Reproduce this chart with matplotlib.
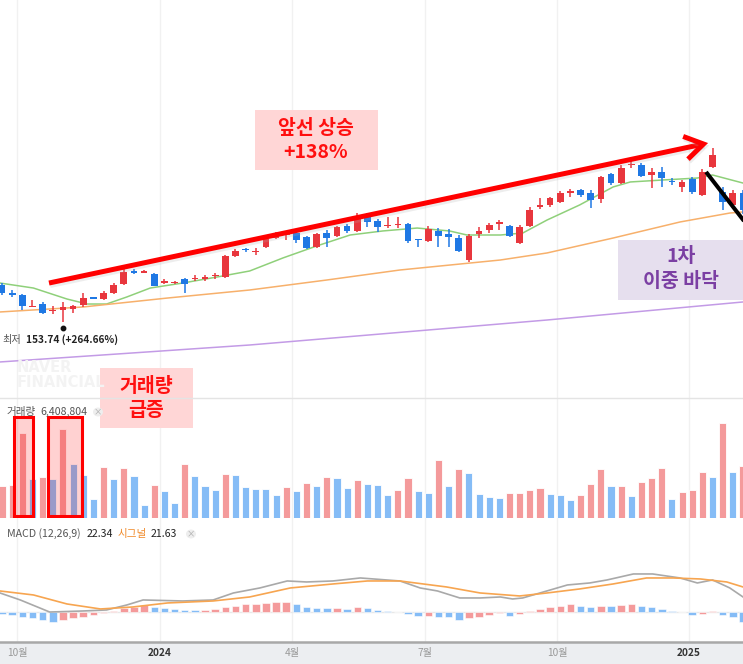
import matplotlib
matplotlib.use('Agg')
import matplotlib.pyplot as plt
import numpy as np
from matplotlib.patches import Rectangle, FancyArrowPatch, Circle
import matplotlib.patheffects as pe
from matplotlib import transforms
from matplotlib.lines import Line2D

plt.rcParams['font.family'] = ['Noto Sans CJK KR', 'DejaVu Sans']

# ---------------- data (weekly candles) ----------------
opens = [198.9, 188.5, 186.7, 172.1, 175.7, 167.2, 168.4, 169.6, 174.5, 183.6,
         181.8, 189.1, 200.1, 215.4, 214.1, 212.3, 201.3, 201.3, 206.2, 206.2,
         206.2, 209.3, 208.7, 234.3, 242.2, 238.6, 245.3, 256.2, 259.3, 262.3,
         257.5, 245.3, 262.3, 258.7, 270.9, 264.8, 281.9, 277.0, 270.3, 271.5,
         273.3, 254.4, 252.6, 264.8, 261.1, 256.2, 229.4, 261.1, 266.0, 273.9,
         270.9, 250.1, 270.9, 294.1, 296.5, 300.2, 311.1, 314.8, 311.1, 303.8,
         334.3, 323.3, 344.7, 345.3, 333.1, 336.8, 325.2, 318.5, 328.2, 308.7,
         342.9, 312.4, 296.5, 311.1]
closes = [189.1, 187.3, 173.3, 173.3, 164.7, 168.4, 172.1, 173.3, 183.0, 182.4,
          189.1, 198.9, 214.8, 214.1, 215.4, 197.7, 203.2, 202.6, 200.1, 207.4,
          208.7, 210.5, 234.3, 240.4, 241.0, 239.8, 255.6, 261.1, 260.5, 254.4,
          244.0, 261.1, 256.2, 269.7, 264.8, 280.6, 275.8, 269.7, 271.5, 272.7,
          252.6, 253.2, 267.2, 258.7, 257.5, 240.4, 258.7, 264.8, 272.1, 275.2,
          258.7, 269.7, 290.4, 295.9, 305.0, 311.1, 313.6, 308.7, 302.6, 330.7,
          323.3, 341.6, 345.9, 331.9, 336.8, 329.4, 324.0, 324.6, 312.4, 336.8,
          357.5, 300.2, 311.1, 290.4]
highs = [201.3, 192.8, 187.9, 180.6, 178.2, 173.3, 178.2, 174.5, 189.1, 184.3,
         191.6, 201.3, 218.4, 218.4, 216.6, 213.5, 206.2, 203.8, 207.4, 211.1,
         211.1, 213.5, 235.5, 242.8, 244.0, 244.0, 259.9, 263.6, 262.3, 264.8,
         258.7, 262.3, 266.0, 270.9, 273.3, 286.7, 286.7, 279.4, 281.9, 281.9,
         274.5, 255.0, 270.9, 268.4, 267.2, 259.9, 261.1, 269.7, 274.5, 278.2,
         272.1, 272.1, 294.1, 305.0, 306.3, 313.6, 316.0, 316.0, 314.8, 331.9,
         335.5, 345.3, 351.4, 347.7, 341.6, 342.9, 329.4, 327.0, 330.7, 340.4,
         366.0, 318.5, 314.8, 314.8]
lows = [186.7, 184.3, 168.4, 171.5, 164.1, 163.5, 153.74, 164.7, 172.1, 181.8,
        180.6, 187.9, 198.9, 212.3, 213.5, 197.1, 200.1, 200.1, 189.1, 203.8,
        203.8, 206.2, 207.4, 233.1, 239.2, 235.5, 244.0, 255.0, 253.8, 250.1,
        242.8, 244.0, 245.3, 257.5, 262.3, 263.6, 269.7, 263.6, 268.4, 268.4,
        250.1, 245.3, 251.4, 245.3, 245.3, 239.2, 226.9, 256.2, 262.3, 266.0,
        257.5, 248.9, 269.7, 291.6, 294.1, 298.9, 306.3, 306.3, 292.8, 298.9,
        320.9, 322.1, 341.6, 330.7, 317.2, 318.5, 320.9, 312.4, 309.9, 307.5,
        341.6, 290.4, 294.1, 285.5]

# moving averages (week index, price)
ma_short_x = [-0.2, 3.1, 6.4, 8.4, 10.3, 12.3, 14.6, 17.8, 21.2, 24.4, 27.7, 31.0,
              34.3, 37.5, 40.9, 44.1, 45.8, 49.1, 51.3, 53.7, 56.9, 60.2, 61.9,
              65.1, 68.5, 70.0, 73.0]
ma_short_y = [201.3, 195.2, 181.8, 175.7, 175.7, 184.3, 195.2, 201.3, 208.7, 216.0,
              232.0, 246.5, 259.9, 264.8, 268.4, 264.8, 259.9, 259.9, 262.3, 278.2,
              296.5, 318.5, 324.6, 327.0, 329.4, 333.1, 323.3]
ma_mid_x = [-0.2, 8.0, 16.3, 24.4, 32.0, 39.2, 46.1, 49.1, 53.7, 60.2, 66.8, 71.7, 73.0]
ma_mid_y = [166.0, 172.1, 183.0, 192.8, 205.0, 217.2, 225.7, 229.4, 238.0, 256.2,
            275.8, 286.7, 288.0]
ma_long_x = [-0.2, 24.4, 53.7, 73.0]
ma_long_y = [105.0, 125.7, 156.2, 178.2]

# volume (millions of shares) and bar colours (r = up, b = down)
volumes = [3.94, 4.07, 10.47, 4.80, 5.05, 4.80, 10.97, 6.65, 5.30, 2.34,
           6.28, 4.80, 6.16, 5.17, 1.60, 4.07, 3.33, 1.85, 6.65, 5.17,
           3.94, 3.45, 5.42, 5.30, 3.82, 3.57, 3.57, 2.83, 3.82, 3.33,
           4.31, 3.94, 5.05, 4.93, 3.70, 4.68, 4.19, 4.07, 2.83, 3.45,
           4.93, 3.33, 3.08, 7.15, 3.94, 6.04, 5.54, 2.96, 2.59, 2.46,
           3.08, 3.08, 3.45, 3.70, 2.96, 2.83, 2.22, 2.83, 4.19, 6.04,
           3.94, 3.94, 2.71, 4.44, 4.93, 6.16, 2.34, 3.20, 3.45, 5.67,
           5.05, 11.70, 5.67, 6.41]
vol_dir = "rrrbrbrbbbrbrbbrbbrbbbrbbbbbrbrbrbbrbbbrrbbrbrbbbbrrrrbbbrrrbrbrrrbrrrbrbr"

# MACD
macd_x = [-0.2, 1.8, 4.7, 8.0, 10.3, 12.3, 13.9, 17.8, 20.8, 22.8, 25.4, 28.1, 30.0,
          32.6, 35.3, 39.2, 41.2, 42.9, 45.1, 47.1, 49.1, 50.3, 51.3, 53.0, 55.7,
          57.9, 59.6, 62.2, 64.1, 66.8, 68.5, 70.0, 71.7, 73.0]
macd_y = [27.8, 17.3, -0.8, 0.8, 2.3, 9.8, 17.3, 15.8, 17.3, 27.8, 35.3, 45.8, 44.3,
          45.8, 50.3, 45.8, 35.3, 30.8, 20.3, 20.3, 21.8, 18.8, 20.3, 27.8, 39.8,
          42.8, 47.3, 56.3, 56.3, 50.3, 42.8, 47.3, 35.3, 21.8]
signal_x = [-0.2, 3.1, 6.4, 9.7, 12.9, 16.3, 20.8, 24.4, 28.4, 32.6, 36.0, 39.2, 43.8,
            47.1, 51.0, 53.7, 56.9, 60.2, 63.5, 66.1, 68.8, 71.4, 73.0]
signal_y = [30.8, 24.8, 11.3, 3.8, 6.8, 12.8, 15.8, 21.8, 35.3, 41.3, 45.8, 45.8, 36.8,
            27.8, 23.3, 27.8, 33.8, 41.3, 50.3, 50.3, 48.8, 44.3, 36.8]
hist = [-3.75, -5.25, -8.25, -9.75, -12.75, -15.75, -12.75, -9.75, -8.25, -5.25,
        -2.25, 1.0, 5.25, 6.75, 9.75, 6.75, 5.25, 3.75, 2.25, 2.25,
        2.25, 3.75, 6.75, 8.25, 11.25, 11.25, 12.75, 14.25, 14.25, 11.25,
        6.75, 5.25, 5.25, 5.25, 3.75, 6.75, 5.25, 2.25, 0.75, -0.75,
        -3.75, -6.75, -6.75, -8.25, -8.25, -12.75, -9.75, -8.25, -5.25, -2.25,
        -6.75, -3.75, 0.5, 3.75, 6.75, 8.25, 11.25, 8.25, 6.75, 8.25,
        8.25, 9.75, 11.25, 8.25, 6.75, 3.75, 0.75, -0.75, -5.25, -3.75,
        0.5, -5.25, -8.25, -15.75]
hist_dir = "bbbbbbrrrrrrrrrbbbbbrrrrrrrrrbbbbrbrbbbbbbrbbbrrrrbrrrrrrbbrbrrbbbbbbrrbbb"

tick_pos = [1.48, 15.57, 28.57, 41.67, 54.68, 67.68]
tick_labels = ["10월", "2024", "4월", "7월", "10월", "2025"]
tick_bold = [False, True, False, False, False, True]

low_value = 153.74
low_text = "153.74 (+264.66%)"
volume_text = "6,408,804"
macd_value = "22.34"
signal_value = "21.63"

# annotation line endpoints (week index, price)
rise_start = (4.63, 201.3)
rise_end = (69.56, 372.1)
drop_start = (69.36, 336.8)
drop_end = (74.7, 251.4)

# ---------------- figure ----------------
W, H = 743, 664
fig = plt.figure(figsize=(W / 100, H / 100), dpi=100)
fig.patch.set_facecolor('white')

def fx(px):
    return px / W

def fy(py):
    return 1 - py / H

RED = '#e8363d'
BLUE = '#1f78e4'
VRED = '#f49a9b'
VBLUE = '#85bcf6'
GRID = '#f1f1f1'
XLIM = (-0.197, 73.0)

ax_p = fig.add_axes([0, fy(398), 1, 398 / H])
ax_v = fig.add_axes([0, fy(518), 1, 120 / H])
ax_m = fig.add_axes([0, fy(642), 1, 124 / H])
ax_x = fig.add_axes([0, 0, 1, 22 / H])

for ax in (ax_p, ax_v, ax_m, ax_x):
    ax.set_xlim(*XLIM)
    ax.set_xticks([])
    ax.set_yticks([])
    for s in ax.spines.values():
        s.set_visible(False)
    ax.patch.set_alpha(0)
for ax in (ax_p, ax_v, ax_m):
    for t in tick_pos:
        ax.axvline(t, color=GRID, lw=1, zorder=0)

# ---- price panel ----
ax_p.set_ylim(61.04, 546.6)
idx = np.arange(len(opens))
o = np.array(opens); c = np.array(closes); hi = np.array(highs); lo = np.array(lows)
up = c >= o
cols = np.where(up, RED, BLUE)
ax_p.vlines(idx, lo, hi, colors=cols, lw=1.1, zorder=3)
body_bottom = np.minimum(o, c)
body_h = np.maximum(np.abs(c - o), 1.4)
ax_p.bar(idx, body_h, bottom=body_bottom, width=0.66, color=cols, lw=0, zorder=4)

ax_p.plot(ma_short_x, ma_short_y, color='#8fd07a', lw=1.1, zorder=2)
ax_p.plot(ma_mid_x, ma_mid_y, color='#f7b06b', lw=1.1, zorder=2)
ax_p.plot(ma_long_x, ma_long_y, color='#c39be6', lw=1.1, zorder=2)

# low marker and label
ilow = int(np.argmin(lo))
dot_tr = transforms.offset_copy(ax_p.transData, fig=fig, x=0, y=-4, units='points')
ax_p.plot([ilow], [low_value], marker='o', ms=3.2, color='#111111', transform=dot_tr, zorder=5)
fig.text(fx(2), fy(340), "최저", fontsize=7.3, color='#555555', va='center', ha='left')
fig.text(fx(26), fy(340), low_text, fontsize=7.3, color='#222222', va='center', ha='left',
         fontweight='bold')

# watermark
fig.text(fx(17), fy(367), "NAVER", fontsize=10.5, color='#f3f3f3', fontweight='bold', va='center',
         family='DejaVu Sans')
fig.text(fx(17), fy(382), "FINANCIAL", fontsize=10.5, color='#f3f3f3', fontweight='bold',
         va='center', family='DejaVu Sans')

# red arrow (rise)
arrow = FancyArrowPatch(rise_start, rise_end, arrowstyle='->,head_length=0.6,head_width=0.38',
                        mutation_scale=22, color='#ff0000', lw=3.6, zorder=6,
                        shrinkA=0, shrinkB=0, capstyle='butt', joinstyle='miter')
arrow.set_path_effects([pe.SimpleLineShadow(offset=(0.8, -1.8), shadow_color='#b0b0b0', alpha=0.22),
                        pe.Normal()])
ax_p.add_patch(arrow)
# black line (drop)
ax_p.plot([drop_start[0], drop_end[0]], [drop_start[1], drop_end[1]], color='black', lw=2.9,
          zorder=6, solid_capstyle='butt')

# annotation boxes
def box(x0, y0, x1, y1, color):
    fig.patches.append(Rectangle((fx(x0), fy(y1)), fx(x1) - fx(x0), fy(y0) - fy(y1),
                                 transform=fig.transFigure, facecolor=color, edgecolor='none',
                                 zorder=1))

ANN = 14
box(255, 110, 378, 170, '#ffd6d6')
fig.text(fx(316), fy(129), "앞선 상승", fontsize=ANN, color='#ff1010', fontweight='bold',
         ha='center', va='center', zorder=3)
fig.text(fx(316), fy(153), "+138%", fontsize=ANN, color='#ff1010', fontweight='bold',
         ha='center', va='center', zorder=3)

box(618, 240, 743, 300, '#e6dfee')
fig.text(fx(681), fy(257), "1차", fontsize=ANN, color='#7b3fa3', fontweight='bold',
         ha='center', va='center', zorder=3)
fig.text(fx(681), fy(282), "이중 바닥", fontsize=ANN, color='#7b3fa3', fontweight='bold',
         ha='center', va='center', zorder=3)

box(100, 368, 193, 428, '#ffd6d6')
fig.text(fx(146), fy(387), "거래량", fontsize=ANN, color='#ff1010', fontweight='bold',
         ha='center', va='center', zorder=3)
fig.text(fx(146), fy(410), "급증", fontsize=ANN, color='#ff1010', fontweight='bold',
         ha='center', va='center', zorder=3)

# separator
fig.add_artist(Line2D([0, 1], [fy(398), fy(398)], color='#e4e4e4', lw=1))

# ---- volume panel ----
vmax = 120 * 0.1232
ax_v.set_ylim(0, vmax)
vcols = [VRED if d == 'r' else VBLUE for d in vol_dir]
ax_v.bar(np.arange(len(volumes)), volumes, width=0.7, color=vcols, edgecolor='white', lw=0.6,
         zorder=2)
fig.text(fx(7), fy(412), "거래량", fontsize=7.6, color='#555555', va='center')
fig.text(fx(40), fy(412), volume_text, fontsize=7.6, color='#555555', va='center')
fig.patches.append(Circle((fx(98), fy(412)), 5 / W, transform=fig.transFigure,
                          facecolor='#eeeeee', edgecolor='none'))
fig.text(fx(98), fy(412), "×", fontsize=6, color='#aaaaaa', ha='center', va='center')

# red boxes in volume panel (week-index extents)
for (a, b) in [(1.2, 3.05), (4.55, 7.9)]:
    ax_v.add_patch(Rectangle((a, 0.2), b - a, (518 - 419) * 0.1232, facecolor=(1, 0, 0, 0.18),
                             edgecolor='#ff0000', lw=2.2, zorder=5))

# ---- MACD panel ----
ax_m.set_ylim(-45.75, 140.25)
ax_m.axhline(0, color='#e8e8e8', lw=1, zorder=1)
hcols = [VRED if d == 'r' else VBLUE for d in hist_dir]
ax_m.bar(np.arange(len(hist)), hist, width=0.74, color=hcols, edgecolor='white', lw=0.4, zorder=2)
ax_m.plot(macd_x, macd_y, color='#a9a9a9', lw=1.2, zorder=3)
ax_m.plot(signal_x, signal_y, color='#f7a550', lw=1.2, zorder=3)

fig.text(fx(7), fy(534), "MACD (12,26,9)", fontsize=7.6, color='#555555', va='center')
fig.text(fx(87), fy(534), macd_value, fontsize=7.6, color='#222222', va='center')
fig.text(fx(118), fy(534), "시그널", fontsize=7.6, color='#f08a2a', va='center')
fig.text(fx(151), fy(534), signal_value, fontsize=7.6, color='#222222', va='center')
fig.patches.append(Circle((fx(191), fy(534)), 5 / W, transform=fig.transFigure,
                          facecolor='#eeeeee', edgecolor='none'))
fig.text(fx(191), fy(534), "×", fontsize=6, color='#aaaaaa', ha='center', va='center')

# ---- x axis band ----
ax_x.set_ylim(0, 1)
ax_x.patch.set_alpha(1)
ax_x.set_facecolor('#eceef1')
fig.add_artist(Line2D([0, 1], [fy(641.5), fy(641.5)], color='#a8a8a8', lw=1.8))
for t, lab, b in zip(tick_pos, tick_labels, tick_bold):
    ax_x.text(t, 0.5, lab, ha='center', va='center', fontsize=7.3,
              color='#333333' if b else '#999999', fontweight='bold' if b else 'normal')

fig.savefig('out.png', dpi=100)
